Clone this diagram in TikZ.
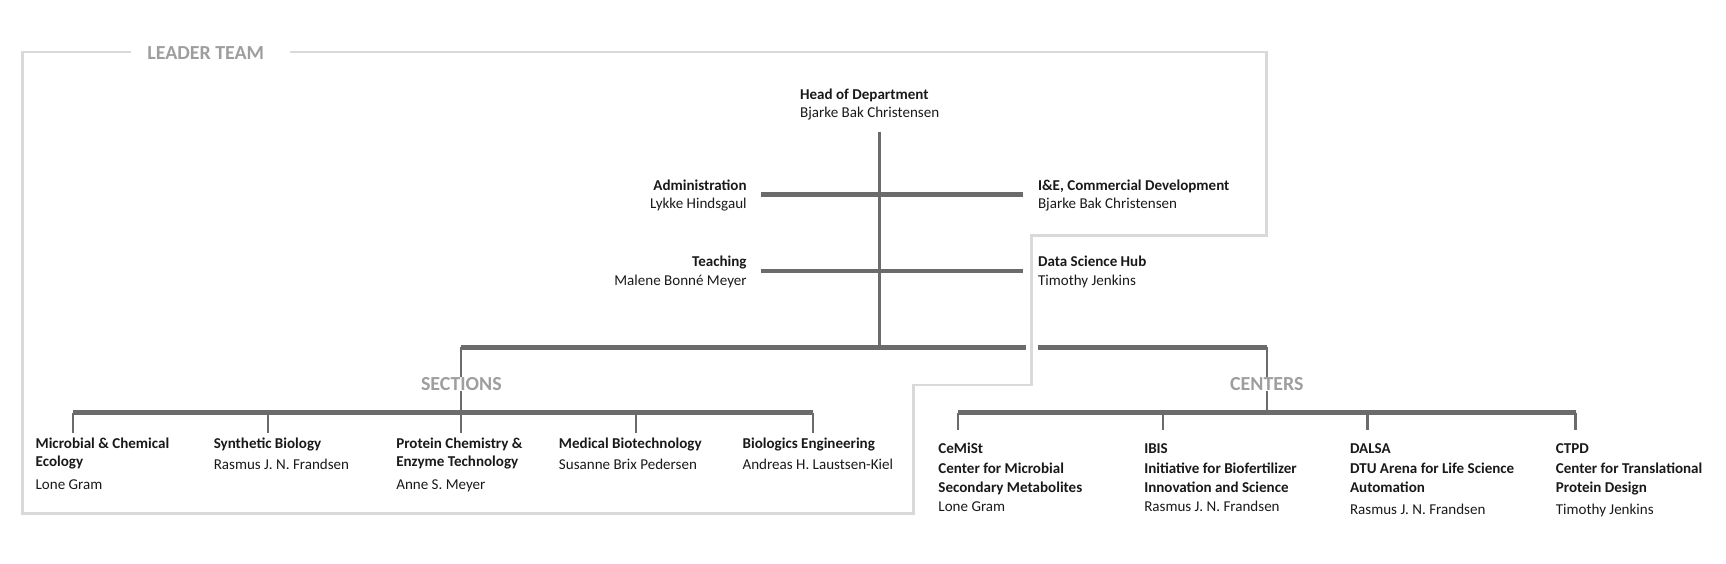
\documentclass[tikz,border=0pt]{standalone}
\usepackage{fontspec}
\setmainfont{Carlito}
\begin{document}
\begin{tikzpicture}[x=1pt,y=-1pt,
  lt/.style={font=\fontsize{13.6}{17}\selectfont, inner sep=0pt, text=black!90},
  bt/.style={lt, font=\fontsize{13.6}{17}\selectfont\bfseries},
  hd/.style={inner sep=0pt, font=\fontsize{18}{20}\selectfont\bfseries, text=black!38},
  frame/.style={draw=black!15, line width=2.6pt},
  ln/.style={draw=black!58, line width=3pt},
  thk/.style={draw=black!58, line width=5pt},
  thn/.style={draw=black!58, line width=2pt}]
\useasboundingbox (0,0) rectangle (1560,509);
% leader team frame
\node[hd, anchor=base west] (lead) at (133,54) {LEADER TEAM};
\draw[frame] (118,47) -- (20,47) -- (20,464) -- (826,464) -- (826,348) -- (932,348) -- (932,213) -- (1145,213) -- (1145,47) -- (262,47);
% head
\node[bt, anchor=base west] (head) at (723,90) {Head of Department};
\node[lt, anchor=base west] (headn) at (723,106) {Bjarke Bak Christensen};
\coordinate (h0) at (795,119); \coordinate (h1) at (795,314);
\draw[ln] (h0) -- (h1);
\node[bt, anchor=base east] (adm) at (675,172) {Administration};
\node[lt, anchor=base east] (admn) at (675,188) {Lykke Hindsgaul};
\node[bt, anchor=base west] (ie) at (938,172) {I\&E, Commercial Development};
\node[lt, anchor=base west] (ien) at (938,188) {Bjarke Bak Christensen};
\coordinate (a0) at (688,176); \coordinate (a1) at (925,176);
\draw[thk] (a0) -- (a1);
\node[bt, anchor=base east] (tea) at (675,241) {Teaching};
\node[lt, anchor=base east] (tean) at (675,258) {Malene Bonné Meyer};
\node[bt, anchor=base west] (dsh) at (938,241) {Data Science Hub};
\node[lt, anchor=base west] (dshn) at (938,258) {Timothy Jenkins};
\coordinate (t0) at (688,245); \coordinate (t1) at (925,245);
\draw[ln] (t0) -- (t1);
% level split
\coordinate (s0) at (417,314); \coordinate (s1) at (927,314);
\coordinate (c0) at (938,314); \coordinate (c1) at (1145,314);
\draw[thk] (s0) -- (s1); \draw[thk] (c0) -- (c1);
\node[hd, anchor=center] (sec) at (417,347) {SECTIONS};
\node[hd, anchor=center] (cen) at (1145,347) {CENTERS};
\draw[thn] (s0) -- (sec.north);
\draw[thn] (c1) -- (cen.north);
\coordinate (sb) at (417,373); \coordinate (cb) at (1145,373);
\draw[thn] (sec.south) -- (sb);
\draw[thn] (cen.south) -- (cb);
% sections bar
\coordinate (sl) at (66,373); \coordinate (sr) at (735,373);
\draw[thk] (sl) -- (sr);
\foreach \x/\n in {66/d1,242/d2,417/d3,575/d4,735/d5}{
  \coordinate (\n a) at (\x,373); \coordinate (\n b) at (\x,391);
  \draw[thn] (\n a) -- (\n b);}
\node[bt, anchor=base west] (m1) at (32,405) {Microbial \& Chemical};
\node[bt, anchor=base west] (m2) at (32,422) {Ecology};
\node[lt, anchor=base west] (m3) at (32,442) {Lone Gram};
\node[bt, anchor=base west] (sy1) at (193,405) {Synthetic Biology};
\node[lt, anchor=base west] (sy2) at (193,424) {Rasmus J. N. Frandsen};
\node[bt, anchor=base west] (p1) at (358,405) {Protein Chemistry \&};
\node[bt, anchor=base west] (p2) at (358,422) {Enzyme Technology};
\node[lt, anchor=base west] (p3) at (358,442) {Anne S. Meyer};
\node[bt, anchor=base west] (md1) at (505,405) {Medical Biotechnology};
\node[lt, anchor=base west] (md2) at (505,424) {Susanne Brix Pedersen};
\node[bt, anchor=base west] (bi1) at (671,405) {Biologics Engineering};
\node[lt, anchor=base west] (bi2) at (671,424) {Andreas H. Laustsen-Kiel};
% centers bar
\coordinate (cl) at (866,373); \coordinate (cr) at (1424,373);
\draw[thk] (cl) -- (cr);
\foreach \x/\n in {866/e1,1051/e2,1236/e3,1424/e4}{
  \coordinate (\n a) at (\x,373); \coordinate (\n b) at (\x,389);
  \draw[thn] (\n a) -- (\n b);}
\node[bt, anchor=base west] (ce1) at (848,410) {CeMiSt};
\node[bt, anchor=base west] (ce2) at (848,428) {Center for Microbial};
\node[bt, anchor=base west] (ce3) at (848,445) {Secondary Metabolites};
\node[lt, anchor=base west] (ce4) at (848,462) {Lone Gram};
\node[bt, anchor=base west] (ib1) at (1034,410) {IBIS};
\node[bt, anchor=base west] (ib2) at (1034,428) {Initiative for Biofertilizer};
\node[bt, anchor=base west] (ib3) at (1034,445) {Innovation and Science};
\node[lt, anchor=base west] (ib4) at (1034,462) {Rasmus J. N. Frandsen};
\node[bt, anchor=base west] (da1) at (1220,410) {DALSA};
\node[bt, anchor=base west] (da2) at (1220,428) {DTU Arena for Life Science};
\node[bt, anchor=base west] (da3) at (1220,445) {Automation};
\node[lt, anchor=base west] (da4) at (1220,465) {Rasmus J. N. Frandsen};
\node[bt, anchor=base west] (ct1) at (1406,410) {CTPD};
\node[bt, anchor=base west] (ct2) at (1406,428) {Center for Translational};
\node[bt, anchor=base west] (ct3) at (1406,445) {Protein Design};
\node[lt, anchor=base west] (ct4) at (1406,465) {Timothy Jenkins};
\end{tikzpicture}
\end{document}
